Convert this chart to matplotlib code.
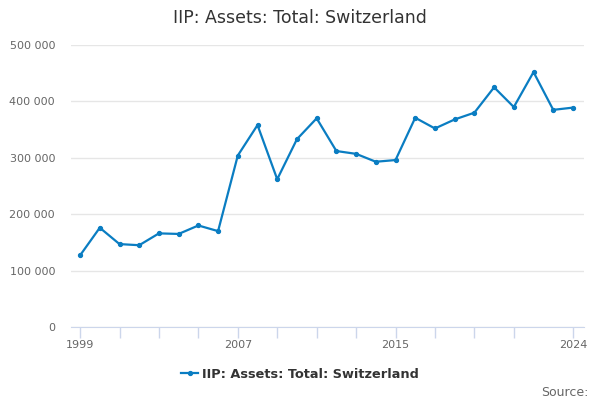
import matplotlib
matplotlib.use('Agg')
import matplotlib.pyplot as plt
from matplotlib.ticker import FuncFormatter, FixedLocator
from matplotlib.lines import Line2D

# Dados
anos = list(range(1999, 2025))
valores = [127000, 176000, 147000, 145000, 166000, 165000, 180000, 170000,
           304000, 358000, 262000, 333000, 370000, 312000, 307000, 293000,
           296000, 371000, 352000, 368000, 380000, 425000, 390000, 452000,
           385000, 389000]
ticks_x = list(range(1999, 2022, 2)) + [2024]
rotulos_x = {1999: '1999', 2007: '2007', 2015: '2015', 2024: '2024'}
ticks_y = [0, 100000, 200000, 300000, 400000, 500000]

titulo = 'IIP: Assets: Total: Switzerland'
cor_linha = '#0a7dc2'

fig = plt.figure(figsize=(6, 4), dpi=100)
ax = fig.add_axes([71 / 600, 73 / 400, 513 / 600, 282 / 400])

ax.plot(anos, valores, color=cor_linha, linewidth=1.6, marker='o', markersize=2.8)

ax.set_xlim(1998.54, 2024.56)
ax.set_ylim(0, 500000)
ax.xaxis.set_major_locator(FixedLocator(ticks_x))
ax.set_xticklabels([rotulos_x.get(t, '') for t in ticks_x])
ax.set_yticks(ticks_y)
ax.yaxis.set_major_formatter(FuncFormatter(lambda v, p: f'{int(v):,}'.replace(',', ' ')))

ax.grid(axis='y', color='#e6e6e6', linewidth=1)
ax.set_axisbelow(True)
for lado in ['top', 'right', 'left']:
    ax.spines[lado].set_visible(False)
ax.spines['bottom'].set_color('#ccd6eb')
ax.tick_params(axis='x', color='#ccd6eb', length=8, width=1, labelsize=8, labelcolor='#666666', pad=1)
ax.tick_params(axis='y', length=0, labelsize=8, labelcolor='#666666', pad=11.5)

fig.text(0.5, 1 - 18 / 400, titulo, ha='center', va='center', fontsize=12.5, color='#333333')

alca = Line2D([], [], color=cor_linha, linewidth=1.6, marker='o', markersize=2.8)
leg = fig.legend([alca], [titulo], loc='center', bbox_to_anchor=(0.5, 1 - 374 / 400),
                 frameon=False, handlelength=1.3, handletextpad=0.3,
                 prop={'weight': 'bold', 'size': 9.3})
for t in leg.get_texts():
    t.set_color('#333333')

fig.text(589 / 600, 1 - 392 / 400, 'Source:', ha='right', va='center', fontsize=9, color='#666666')

fig.savefig('out.png', dpi=100)
